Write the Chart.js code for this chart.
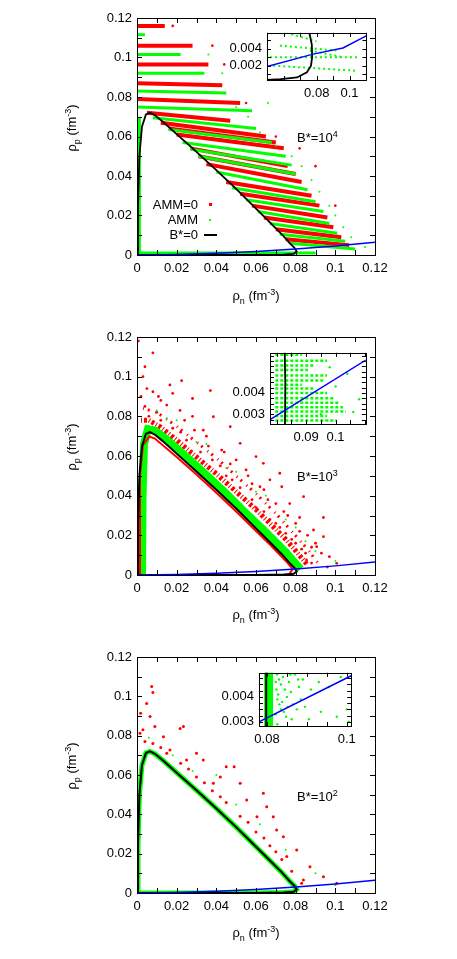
<!DOCTYPE html>
<html>
<head>
<meta charset="utf-8">
<script src="https://cdn.jsdelivr.net/npm/chart.js@4.4.1/dist/chart.umd.min.js"></script>
<style>
  body { margin: 0; background: #fff; width: 457px; height: 959px; position: relative; overflow: hidden;
         font-family: "Liberation Sans", Arial, sans-serif; }
  canvas { position: absolute; }
  .t { position: absolute; font-size: 13px; color: #000; white-space: nowrap; line-height: 1; }
  .t sub, .t sup { font-size: 9px; }
  .yt { transform: translate(-50%, -50%) rotate(-90deg); }
  .xt { transform: translateX(-50%); }
  .dot { position: absolute; width: 3px; height: 3px; }
</style>
</head>
<body>
<canvas id="main1" width="457" height="300" style="left:0px;top:0px"></canvas>
<canvas id="main2" width="457" height="300" style="left:0px;top:320px"></canvas>
<canvas id="main3" width="457" height="300" style="left:0px;top:640px"></canvas>
<canvas id="ins1" width="157" height="85" style="left:215px;top:20px"></canvas>
<canvas id="ins2" width="157" height="105" style="left:214px;top:340px"></canvas>
<canvas id="ins3" width="157" height="85" style="left:205px;top:660px"></canvas>

<div class="t xt" style="left:256px;top:288px">ρ<sub>n</sub> (fm<sup>-3</sup>)</div>
<div class="t yt" style="left:73px;top:128px">ρ<sub>p</sub> (fm<sup>-3</sup>)</div>
<div class="t xt" style="left:256px;top:607px">ρ<sub>n</sub> (fm<sup>-3</sup>)</div>
<div class="t yt" style="left:73px;top:447px">ρ<sub>p</sub> (fm<sup>-3</sup>)</div>
<div class="t xt" style="left:256px;top:925px">ρ<sub>n</sub> (fm<sup>-3</sup>)</div>
<div class="t yt" style="left:73px;top:766px">ρ<sub>p</sub> (fm<sup>-3</sup>)</div>

<div class="t" style="left:297px;top:130px">B*=10<sup>4</sup></div>
<div class="t" style="left:297px;top:469px">B*=10<sup>3</sup></div>
<div class="t" style="left:297px;top:789px">B*=10<sup>2</sup></div>

<div class="t" style="right:259px;top:198px">AMM=0</div>
<div class="dot" style="left:209px;top:203px;background:#f00"></div>
<div class="t" style="right:259px;top:213px">AMM</div>
<div class="dot" style="left:209px;top:219px;width:2px;height:2px;background:#0f0"></div>
<div class="t" style="right:259px;top:228px">B*=0</div>
<div style="position:absolute;left:204px;top:234px;width:13px;height:2px;background:#000"></div>

<script>
// ---- data ----
const spinodal0 = [[0,0],[0.0005,0.025],[0.0012,0.05],[0.0025,0.065],[0.0045,0.0712],[0.0065,0.072],[0.009,0.0708],
  [0.013,0.0675],[0.02,0.0612],[0.03,0.0522],[0.04,0.043],[0.05,0.0335],[0.06,0.0235],[0.067,0.0165],[0.073,0.0105],
  [0.077,0.006],[0.0795,0.0035],[0.0805,0.0018],[0.079,0.0006],[0.074,0.0002],[0.06,0.00005],[0.03,0],[0,0]];
const betaEq = [[0,0],[0.02,0.0003],[0.04,0.0009],[0.06,0.0018],[0.08,0.003],[0.1,0.0046],[0.12,0.0065]];

// panel B*=1e4 : Landau-level stripes [x1,y1,x2,y2]
const redStripes1 = [[0.0,0.116,0.014,0.116],[0.0,0.106,0.028,0.106],[0.0,0.0965,0.036,0.0965],
  [0.0,0.087,0.043,0.086],[0.0,0.079,0.052,0.077],[0.005,0.072,0.047,0.068],[0.012,0.067,0.065,0.060],
  [0.016,0.064,0.07,0.057],[0.02,0.061,0.074,0.054],[0.027,0.054,0.076,0.045],[0.031,0.050,0.08,0.041],
  [0.035,0.046,0.083,0.037],[0.045,0.037,0.088,0.030],
  [0.052,0.031,0.092,0.025],[0.058,0.025,0.096,0.019],[0.064,0.019,0.099,0.014],[0.07,0.013,0.103,0.009],
  [0.075,0.008,0.107,0.005]];
const greenStripes1 = [[0.0,0.1115,0.004,0.1115],[0.0,0.1015,0.022,0.1015],[0.0,0.092,0.034,0.092],
  [0.0,0.083,0.045,0.082],[0.0,0.075,0.058,0.073],[0.008,0.0695,0.06,0.064],[0.016,0.0635,0.068,0.057],
  [0.023,0.057,0.075,0.050],[0.027,0.0535,0.078,0.0455],[0.031,0.050,0.08,0.041],[0.04,0.042,0.086,0.033],
  [0.048,0.034,0.09,0.027],
  [0.055,0.028,0.094,0.022],[0.061,0.022,0.097,0.016],[0.067,0.016,0.101,0.011],[0.072,0.0105,0.105,0.007],
  [0.077,0.006,0.11,0.003],[0.0012,0.0,0.0012,0.07],[0.0,0.001,0.09,0.001]];
const greenDots1 = [[0.05,0.075],[0.056,0.07],[0.062,0.062],[0.07,0.0555],[0.078,0.05],[0.083,0.045],[0.088,0.038],
  [0.092,0.032],[0.097,0.025],[0.1,0.02],[0.104,0.014],[0.108,0.009],[0.115,0.004],[0.036,0.1015],[0.043,0.092],[0.066,0.077]];
const redDots1 = [[0.018,0.116],[0.038,0.106],[0.044,0.0965],[0.055,0.077],[0.07,0.06],[0.082,0.054],[0.09,0.045],[0.1,0.025]];

// panel B*=1e3
const greenBand2 = [[0.0025,0],[0.0028,0.04],[0.0035,0.066],[0.0055,0.0735],[0.009,0.0728],[0.015,0.0683],[0.025,0.0595],
  [0.035,0.0505],[0.045,0.041],[0.055,0.031],[0.063,0.0235],[0.07,0.0165],[0.075,0.0115],[0.079,0.0068],[0.0825,0.003]];
const redEdge2 = [[0.0012,0],[0.0015,0.05],[0.003,0.0655],[0.0062,0.0698],[0.009,0.0688],[0.02,0.0595],[0.03,0.0507],
  [0.04,0.0415],[0.05,0.032],[0.06,0.0222],[0.067,0.0153],[0.072,0.0102],[0.076,0.006],[0.0785,0.003],[0.077,0.0008]];
const redFringe2 = [[0.002,0.078],[0.006,0.078],[0.012,0.0745],[0.02,0.068],[0.03,0.0595],[0.04,0.051],[0.05,0.042],
  [0.06,0.033],[0.068,0.025],[0.075,0.018],[0.081,0.011],[0.086,0.005]];
const redFringeOuter2 = [[0.003,0.084],[0.01,0.082],[0.02,0.075],[0.03,0.067],[0.04,0.059],[0.05,0.05],[0.06,0.041],
  [0.07,0.031],[0.078,0.022],[0.086,0.013],[0.092,0.005]];
const redDots2 = [[0.0007,0.118],[0.008,0.112],[0.004,0.105],[0.003,0.1],[0.0166,0.0958],[0.0225,0.098],[0.037,0.093],
  [0.028,0.089],[0.015,0.0857],[0.0217,0.083],[0.0385,0.0798],[0.0334,0.073],[0.047,0.0748],[0.052,0.0664],[0.0427,0.063],
  [0.060,0.0597],[0.055,0.053],[0.067,0.048],[0.0637,0.0563],[0.073,0.0445],[0.062,0.0445],[0.077,0.036],[0.084,0.0395],
  [0.082,0.029],[0.089,0.0227],[0.094,0.029],[0.0906,0.0143],[0.097,0.0092],[0.1007,0.0059],[0.0855,0.0076],[0.094,0.0193],
  [0.072,0.0513],[0.028,0.08],[0.0108,0.09],[0.018,0.0916],[0.008,0.0924],
  [0.012,0.078],[0.018,0.074],[0.025,0.068],[0.032,0.062],[0.038,0.058],[0.045,0.05],[0.052,0.044],[0.058,0.038],
  [0.064,0.032],[0.07,0.026],[0.075,0.021],[0.08,0.016],[0.085,0.011],[0.088,0.006],[0.01,0.082],[0.006,0.08],
  [0.004,0.085],[0.022,0.072],[0.042,0.055],[0.048,0.048],[0.06,0.034],[0.067,0.028],[0.072,0.024],[0.078,0.018],[0.083,0.013],
  [0.002,0.09],[0.005,0.094],[0.012,0.088],[0.024,0.078],[0.035,0.07],[0.044,0.062],[0.05,0.058],[0.056,0.05],
  [0.064,0.043],[0.07,0.036],[0.076,0.03],[0.08,0.026],[0.086,0.02],[0.09,0.016],[0.093,0.011],[0.096,0.004],
  [0.029,0.073],[0.036,0.065],[0.047,0.056],[0.058,0.046],[0.066,0.038],[0.074,0.032],[0.082,0.022],[0.088,0.014]];
const greenDots2 = [[0.01,0.083],[0.02,0.078],[0.035,0.066],[0.05,0.052],[0.065,0.04],[0.08,0.024],[0.09,0.012],[0.1,0.007],
  [0.015,0.079],[0.03,0.067],[0.045,0.054],[0.06,0.042],[0.075,0.028],[0.085,0.017]];

// panel B*=1e2
const redDots3 = [[0.0074,0.105],[0.008,0.102],[0.0049,0.0964],[0.0018,0.0914],[0.003,0.083],[0.009,0.0846],[0.0133,0.0795],
  [0.0217,0.0837],[0.0234,0.0846],[0.0166,0.0727],[0.030,0.071],[0.0334,0.0676],[0.045,0.0642],[0.049,0.0642],[0.042,0.059],
  [0.052,0.0558],[0.0637,0.0507],[0.0687,0.0388],[0.0654,0.0439],[0.0738,0.0286],[0.0805,0.0219],[0.0872,0.0134],
  [0.094,0.0083],[0.1007,0.0049],[0.0553,0.0473],[0.0605,0.0388],[0.0385,0.0558],[0.025,0.0676],[0.0704,0.032],
  [0.0839,0.0066],[0.0755,0.0185],[0.0066,0.0897],[0.0015,0.0812],
  [0.008,0.076],[0.015,0.071],[0.022,0.066],[0.03,0.059],[0.038,0.052],[0.045,0.046],[0.052,0.039],[0.06,0.031],
  [0.067,0.024],[0.073,0.017],[0.078,0.011],[0.083,0.005],[0.004,0.077],[0.012,0.074],[0.026,0.063],[0.034,0.056],
  [0.042,0.049],[0.056,0.036],[0.064,0.028],[0.07,0.021]];
const greenDots3 = [[0.006,0.079],[0.018,0.07],[0.028,0.062],[0.04,0.06],[0.05,0.045],[0.062,0.035],[0.075,0.022],[0.09,0.01],[0.1,0.004]];

// insets
const insBlack1 = [[0.0755,0.0059],[0.077,0.0045],[0.0772,0.003],[0.0765,0.002],[0.074,0.0012],[0.068,0.0006],[0.058,0.0004],[0.0497,0.0003]];
const insBlue1 = [[0.0497,0.0019],[0.0778,0.00337],[0.096,0.0041],[0.1105,0.00557]];
const insStripes1 = [[0.0616,0.0059,0.0798,0.0049],[0.0576,0.00437,0.092,0.0038],[0.0515,0.003,0.106,0.003],
  [0.0758,0.0038,0.096,0.003],[0.0535,0.002,0.104,0.0014]];
const insBlack2 = [[0.0828,0.0025],[0.0829,0.0045],[0.0827,0.006]];
const insBlue2 = [[0.0777,0.00275],[0.1103,0.00554]];
const insLevels2 = [0.00579,0.00551,0.00528,0.00507,0.00482,0.00458,0.00438,0.0042,0.00399,0.00375,0.00354,0.00333,0.00313,0.00292,0.00271];
const insEnds2 = [0.0885,0.0971,0.0928,0.0906,0.0971,0.096,0.0885,0.0928,0.0971,0.0993,0.1014,0.1025,0.1035,0.0971,0.1003];
const insDots2 = [[0.098,0.0052],[0.104,0.0049],[0.108,0.0037],[0.106,0.0031],[0.1,0.0043],[0.095,0.0030]];
const insBlack3 = [[0.0798,0.0027],[0.0798,0.0051]];
const insBand3 = [[0.0804,0.0027],[0.0804,0.0051]];
const insBlue3 = [[0.078,0.003],[0.1011,0.00485]];
const insDots3 = [[0.0825,0.0049],[0.083,0.0047],[0.0835,0.0045],[0.084,0.0048],[0.0845,0.0043],[0.0828,0.0041],
  [0.085,0.004],[0.0838,0.0038],[0.0855,0.0046],[0.086,0.0042],[0.0865,0.0037],[0.0835,0.0035],[0.0822,0.0033],
  [0.0848,0.0032],[0.087,0.0049],[0.088,0.0044],[0.0885,0.0039],[0.089,0.0047],[0.0895,0.0036],[0.091,0.0043],
  [0.0905,0.0031],[0.093,0.0046],[0.0935,0.0034],[0.0955,0.0044],[0.0975,0.0032],[0.0985,0.0048],[0.1,0.0035],
  [0.1005,0.003],[0.0862,0.0031],[0.0826,0.0029],[0.0822,0.0046],[0.0824,0.0043],[0.0826,0.0039],[0.0831,0.0037],
  [0.0842,0.0034],[0.0852,0.0036],[0.0858,0.0049],[0.0878,0.0047],[0.0875,0.0035]];

// tick labels
const mainLabels = [0, 0.02, 0.04, 0.06, 0.08, 0.1, 0.12];

// ---- helpers ----
const pts = a => a.map(p => ({x: p[0], y: p[1]}));
function segs(list) {
  const out = [];
  list.forEach(s => { out.push({x: s[0], y: s[1]}, {x: s[2], y: s[3]}, {x: s[2], y: null}); });
  return out;
}
const line = (data, color, w, order, dash) => ({type: 'line', data, borderColor: color, borderWidth: w,
  pointRadius: 0, spanGaps: false, tension: 0, order, borderDash: dash || [], fill: false});
const dots = (data, color, r, order) => ({type: 'scatter', data, backgroundColor: color, borderWidth: 0,
  pointRadius: r, order});

const fmt = v => String(parseFloat(v.toFixed(5)));

// white plot background, inward ticks on all four sides, frame
const framePlugin = {
  id: 'frame',
  beforeDraw(chart) {
    const a = chart.chartArea, c = chart.ctx;
    c.save(); c.fillStyle = '#fff'; c.fillRect(a.left, a.top, a.right - a.left, a.bottom - a.top); c.restore();
  },
  afterDraw(chart) {
    const a = chart.chartArea, c = chart.ctx, L = chart.options.tickLen || 5;
    c.save(); c.strokeStyle = '#000'; c.lineWidth = 1;
    chart.scales.x.ticks.forEach(t => {
      const p = Math.round(chart.scales.x.getPixelForValue(t.value)) + 0.5;
      c.beginPath(); c.moveTo(p, a.bottom); c.lineTo(p, a.bottom - L); c.moveTo(p, a.top); c.lineTo(p, a.top + L); c.stroke();
    });
    chart.scales.y.ticks.forEach(t => {
      const p = Math.round(chart.scales.y.getPixelForValue(t.value)) + 0.5;
      c.beginPath(); c.moveTo(a.left, p); c.lineTo(a.left + L, p); c.moveTo(a.right, p); c.lineTo(a.right - L, p); c.stroke();
    });
    c.strokeRect(Math.round(a.left) + 0.5, Math.round(a.top) + 0.5, Math.round(a.right - a.left), Math.round(a.bottom - a.top));
    c.restore();
  }
};

function axis(min, max, step, labels, fitSize, isX) {
  return {
    type: 'linear', min, max,
    grid: {display: false, drawTicks: false},
    border: {display: false},
    afterBuildTicks(s) {
      const t = [];
      for (let k = Math.ceil(min / step - 1e-6); k * step <= max + 1e-9; k++) t.push({value: k * step});
      s.ticks = t;
    },
    afterFit(s) { if (isX) s.height = fitSize; else s.width = fitSize; },
    ticks: {
      autoSkip: false, maxRotation: 0, color: '#000', padding: isX ? 6 : 5,
      font: {family: '"Liberation Sans", Arial, sans-serif', size: 13},
      callback: v => labels.some(l => Math.abs(l - v) < step * 1e-3) ? fmt(v) : ''
    }
  };
}

function makeChart(id, datasets, xs, ys, padding, tickLen) {
  new Chart(document.getElementById(id), {
    type: 'scatter',
    data: {datasets},
    options: {
      responsive: false, animation: false, tickLen,
      layout: {padding},
      plugins: {legend: {display: false}, tooltip: {enabled: false}},
      scales: {x: xs, y: ys}
    },
    plugins: [framePlugin]
  });
}

// ---- main panels ----
const mainX = h => axis(0, 0.12, 0.01, mainLabels, h, true);
const mainY = () => axis(0, 0.12, 0.01, mainLabels, 137, false);

makeChart('main1', [
  line(pts(betaEq), '#0000ff', 1.5, 0),
  line(pts(spinodal0), '#000', 1.8, 1),
  line(segs(greenStripes1), '#00ff00', 3, 2),
  dots(pts(greenDots1), '#00ff00', 1, 2),
  line(segs(redStripes1), '#ff0000', 4, 3),
  dots(pts(redDots1), '#ff0000', 1.3, 3)
], mainX(45), mainY(), {top: 18, right: 82, left: 0, bottom: 0});

makeChart('main2', [
  line(pts(betaEq), '#0000ff', 1.5, 0),
  line(pts(spinodal0), '#000', 2, 1),
  line(pts(greenBand2), '#00ff00', 8, 3),
  line(pts(redEdge2), '#ff0000', 2, 2),
  dots(pts(greenDots2), '#00ff00', 1, 4),
  line(pts(redFringe2), '#ff0000', 5, 5, [1, 2, 3, 2]),
  line(pts(redFringeOuter2), '#ff0000', 3, 5, [1, 4, 2, 6]),
  dots(pts(redDots2), '#ff0000', 1.4, 5)
], mainX(45), mainY(), {top: 17, right: 82, left: 0, bottom: 0});

makeChart('main3', [
  line(pts(betaEq), '#0000ff', 1.5, 0),
  line(pts(spinodal0), '#000', 2, 1),
  line(pts(spinodal0), '#00ff00', 5, 3),
  dots(pts(greenDots3), '#00ff00', 1, 4),
  dots(pts(redDots3), '#ff0000', 1.5, 5)
], mainX(47), mainY(), {top: 17, right: 82, left: 0, bottom: 0});

// ---- insets ----
const greenInsStripes2 = insLevels2.map((y, i) => [0.0795, y, insEnds2[i], y]);

makeChart('ins1', [
  line(pts(insBlue1), '#0000ff', 1.5, 0),
  line(pts(insBlack1), '#000', 1.8, 1),
  line(segs(insStripes1), '#00ff00', 2, 2, [2, 3])
], axis(0.0497, 0.1103, 0.01, [0.08, 0.1], 25, true), axis(0.0003, 0.0059, 0.001, [0.002, 0.004], 52, false),
  {top: 4, right: 5, left: 0, bottom: 0}, 4);

makeChart('ins2', [
  line(pts(insBlue2), '#0000ff', 1.5, 0),
  line(pts(insBlack2), '#000', 1.8, 1),
  line(segs(greenInsStripes2), '#00ff00', 2.5, 2, [3, 2]),
  dots(pts(insDots2), '#00ff00', 1.2, 2)
], axis(0.0777, 0.1103, 0.005, [0.09, 0.1], 21, true), axis(0.00254, 0.00588, 0.00025, [0.003, 0.004], 56, false),
  {top: 4, right: 0, left: 0, bottom: 0}, 4);

makeChart('ins3', [
  line(pts(insBlue3), '#0000ff', 1.5, 0),
  line(pts(insBlack3), '#000', 2, 1),
  line(pts(insBand3), '#00ff00', 9, 2),
  dots(pts(insDots3), '#00ff00', 1.2, 2)
], axis(0.078, 0.1011, 0.005, [0.08, 0.1], 19, true), axis(0.00283, 0.00497, 0.00025, [0.003, 0.004], 54, false),
  {top: 4, right: 0, left: 0, bottom: 0}, 4);
</script>
</body>
</html>
